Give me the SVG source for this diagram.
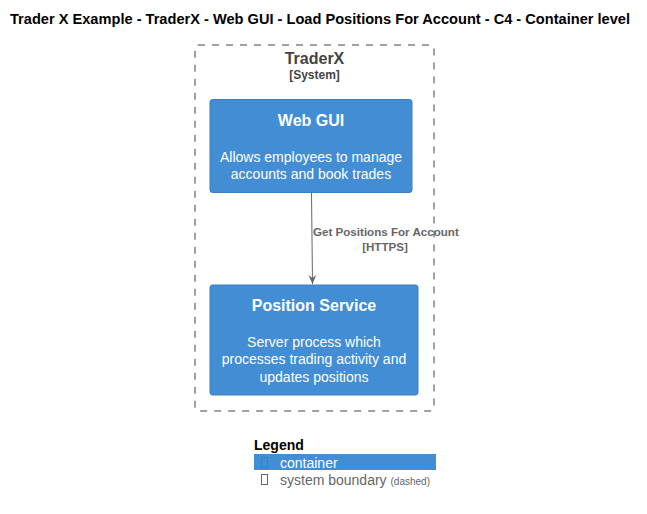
<svg xmlns="http://www.w3.org/2000/svg" width="647" height="514" viewBox="0 0 647 514">
<style>
text{font-family:"Liberation Sans",Arial,sans-serif}
.box{fill:#438DD5;stroke:#3C7FC0;stroke-width:1}
.ttl{font-size:16px;font-weight:bold;fill:#FFFFFF;text-anchor:middle}
.dsc{font-size:14px;fill:#FFFFFF;text-anchor:middle}
.lbl{font-size:11.6px;font-weight:bold;fill:#666666}
</style>
<defs>
<marker id="ah" markerWidth="10" markerHeight="10" refX="9" refY="5" orient="auto" markerUnits="userSpaceOnUse">
<path d="M0,1 L9,5 L0,9 L3,5 Z" fill="#666666"/>
</marker>
</defs>
<rect width="647" height="514" fill="#FFFFFF"/>
<text x="10" y="24" font-size="14.5" font-weight="bold" fill="#000000" textLength="620" lengthAdjust="spacingAndGlyphs">Trader X Example - TraderX - Web GUI - Load Positions For Account - C4 - Container level</text>
<g id="traderx-boundary">
<rect x="195" y="45" width="239" height="366" rx="3" fill="none" stroke="#444444" stroke-width="1" stroke-dasharray="7,7"/>
<text x="314.5" y="64" font-size="16" font-weight="bold" fill="#444444" text-anchor="middle">TraderX</text>
<text x="314.5" y="79" font-size="12" font-weight="bold" fill="#444444" text-anchor="middle">[System]</text>
</g>
<g id="web-gui">
<rect class="box" x="210" y="99.5" width="202" height="93" rx="2.5"/>
<text class="ttl" x="311" y="126">Web GUI</text>
<text class="dsc" x="311" y="162">Allows employees to manage</text>
<text class="dsc" x="311" y="179">accounts and book trades</text>
</g>
<g id="position-service">
<rect class="box" x="210" y="285" width="208" height="110" rx="2.5"/>
<text class="ttl" x="314" y="311">Position Service</text>
<text class="dsc" x="314" y="347">Server process which</text>
<text class="dsc" x="314" y="364">processes trading activity and</text>
<text class="dsc" x="314" y="382">updates positions</text>
</g>
<g id="connectors">
<path d="M311.5,193 L312.5,284" fill="none" stroke="#666666" stroke-width="1" marker-end="url(#ah)"/>
<text class="lbl" x="313" y="236">Get Positions For Account</text>
<text class="lbl" x="385" y="251" text-anchor="middle">[HTTPS]</text>
</g>
<g id="legend">
<text x="254" y="450" font-size="14" font-weight="bold" fill="#000000">Legend</text>
<rect x="254" y="454" width="182" height="16" fill="#438DD5"/>
<rect x="261.5" y="457.5" width="6" height="10" fill="none" stroke="#3C7FC0" stroke-width="1"/>
<text x="280" y="467.5" font-size="14" fill="#FFFFFF">container</text>
<rect x="261.5" y="474.5" width="6" height="10" fill="none" stroke="#666666" stroke-width="1"/>
<text x="280" y="485" font-size="14" fill="#666666">system boundary <tspan font-size="10">(dashed)</tspan></text>
</g>
</svg>
